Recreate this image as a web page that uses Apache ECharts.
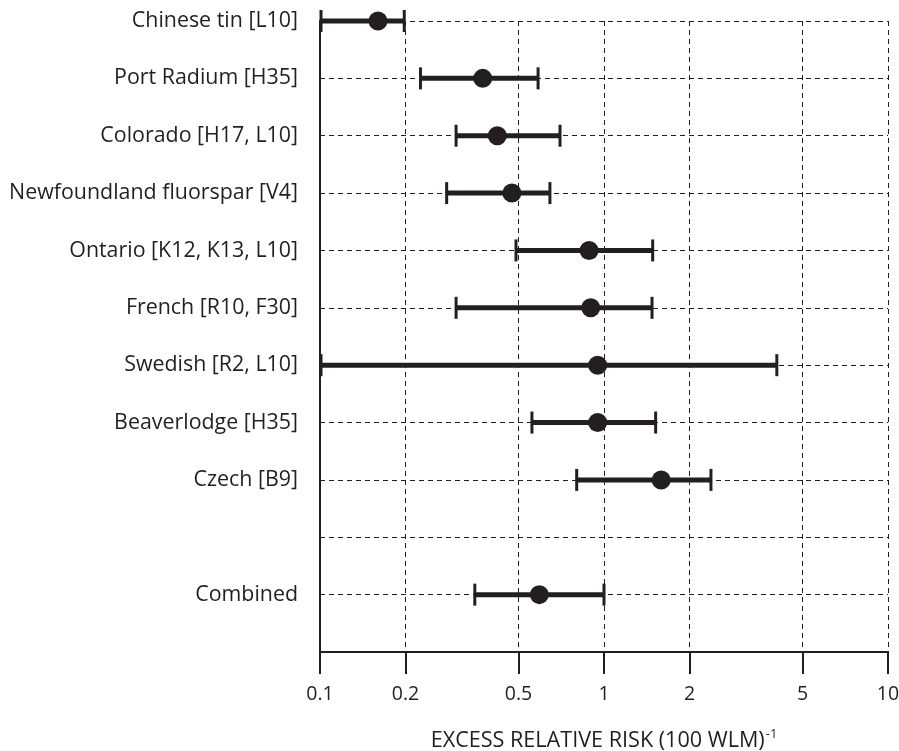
<!DOCTYPE html>
<html>
<head>
<meta charset="utf-8">
<script src="https://cdn.jsdelivr.net/npm/echarts@6/dist/echarts.min.js"></script>
<style>html,body{margin:0;padding:0;background:#fff}#c{width:899px;height:751px}</style>
</head>
<body>
<div id="c"></div>
<script>
const categories = ['Chinese tin [L10]', 'Port Radium [H35]', 'Colorado [H17, L10]', 'Newfoundland fluorspar [V4]', 'Ontario [K12, K13, L10]', 'French [R10, F30]', 'Swedish [R2, L10]', 'Beaverlodge [H35]', 'Czech [B9]', '', 'Combined', ''];
const estimate = [0.16, 0.374, 0.421, 0.474, 0.886, 0.898, 0.95, 0.95, 1.59, null, 0.592];
const lower    = [0.1, 0.224, 0.299, 0.277, 0.486, 0.299, 0.1, 0.553, 0.795, null, 0.348];
const upper    = [0.198, 0.586, 0.70, 0.645, 1.484, 1.476, 4.06, 1.52, 2.38, null, 1.0];
const xTicks = [0.1, 0.2, 0.5, 1, 2, 5, 10];
const xTickLabels = ['0.1', '0.2', '0.5', '1', '2', '5', '10'];

const ink = '#231f20';
const font = 'Open Sans';

const pointData = [], barData = [];
for (let i = 0; i < estimate.length; i++) {
  if (estimate[i] == null) continue;
  pointData.push([estimate[i], i]);
  barData.push([lower[i], upper[i], i]);
}

const chart = echarts.init(document.getElementById('c'), null, {renderer: 'canvas'});
chart.setOption({
  animation: false,
  backgroundColor: '#fff',
  grid: {left: 320, right: 11, top: 21, bottom: 99, containLabel: false, outerBoundsMode: 'none'},
  xAxis: {
    type: 'log', logBase: 10, min: 0.1, max: 10,
    axisLine: {show: true, lineStyle: {color: ink, width: 2}},
    axisTick: {show: true, customValues: xTicks, length: 22, inside: false, lineStyle: {color: ink, width: 2}},
    axisLabel: {show: true, customValues: xTicks, margin: 32, color: ink, fontFamily: font, fontSize: 19.5,
      formatter: function (v) { const k = xTicks.findIndex(t => Math.abs(t - v) < 1e-9); return k >= 0 ? xTickLabels[k] : ''; }},
    splitLine: {show: true, lineStyle: {color: ink, width: 1, type: [5, 4]}},
    minorTick: {show: false}, minorSplitLine: {show: false},
    name: '{a|EXCESS RELATIVE RISK (100 WLM)}{s|-1}',
    nameLocation: 'middle', nameGap: 76,
    nameTextStyle: {rich: {
      a: {fontFamily: font, fontSize: 21.6, color: ink},
      s: {fontFamily: font, fontSize: 13, color: ink, verticalAlign: 'top', padding: [0, 0, 12, 1]}
    }}
  },
  yAxis: {
    type: 'category', data: categories, inverse: true, boundaryGap: false,
    axisLine: {show: true, lineStyle: {color: ink, width: 2}},
    axisTick: {show: false},
    axisLabel: {margin: 22, color: ink, fontFamily: font, fontSize: 21.4, interval: 0},
    splitLine: {show: true, lineStyle: {color: ink, width: 1, type: [5, 4]}}
  },
  series: [
    {
      type: 'custom',
      data: barData,
      encode: {x: [0, 1], y: 2},
      renderItem: function (params, api) {
        const p0 = api.coord([api.value(0), api.value(2)]);
        const p1 = api.coord([api.value(1), api.value(2)]);
        const h = 11;
        const st = {stroke: ink, lineWidth: 5};
        const cs = {stroke: ink, lineWidth: 3};
        return {type: 'group', children: [
          {type: 'line', shape: {x1: p0[0], y1: p0[1], x2: p1[0], y2: p1[1]}, style: st},
          {type: 'line', shape: {x1: p0[0] + 1, y1: p0[1] - h, x2: p0[0] + 1, y2: p0[1] + h}, style: cs},
          {type: 'line', shape: {x1: p1[0], y1: p1[1] - h, x2: p1[0], y2: p1[1] + h}, style: cs}
        ]};
      },
      z: 3
    },
    {
      type: 'scatter', data: pointData, symbol: 'circle', symbolSize: 19,
      itemStyle: {color: ink, opacity: 1}, z: 4
    }
  ]
});
</script>
</body>
</html>
